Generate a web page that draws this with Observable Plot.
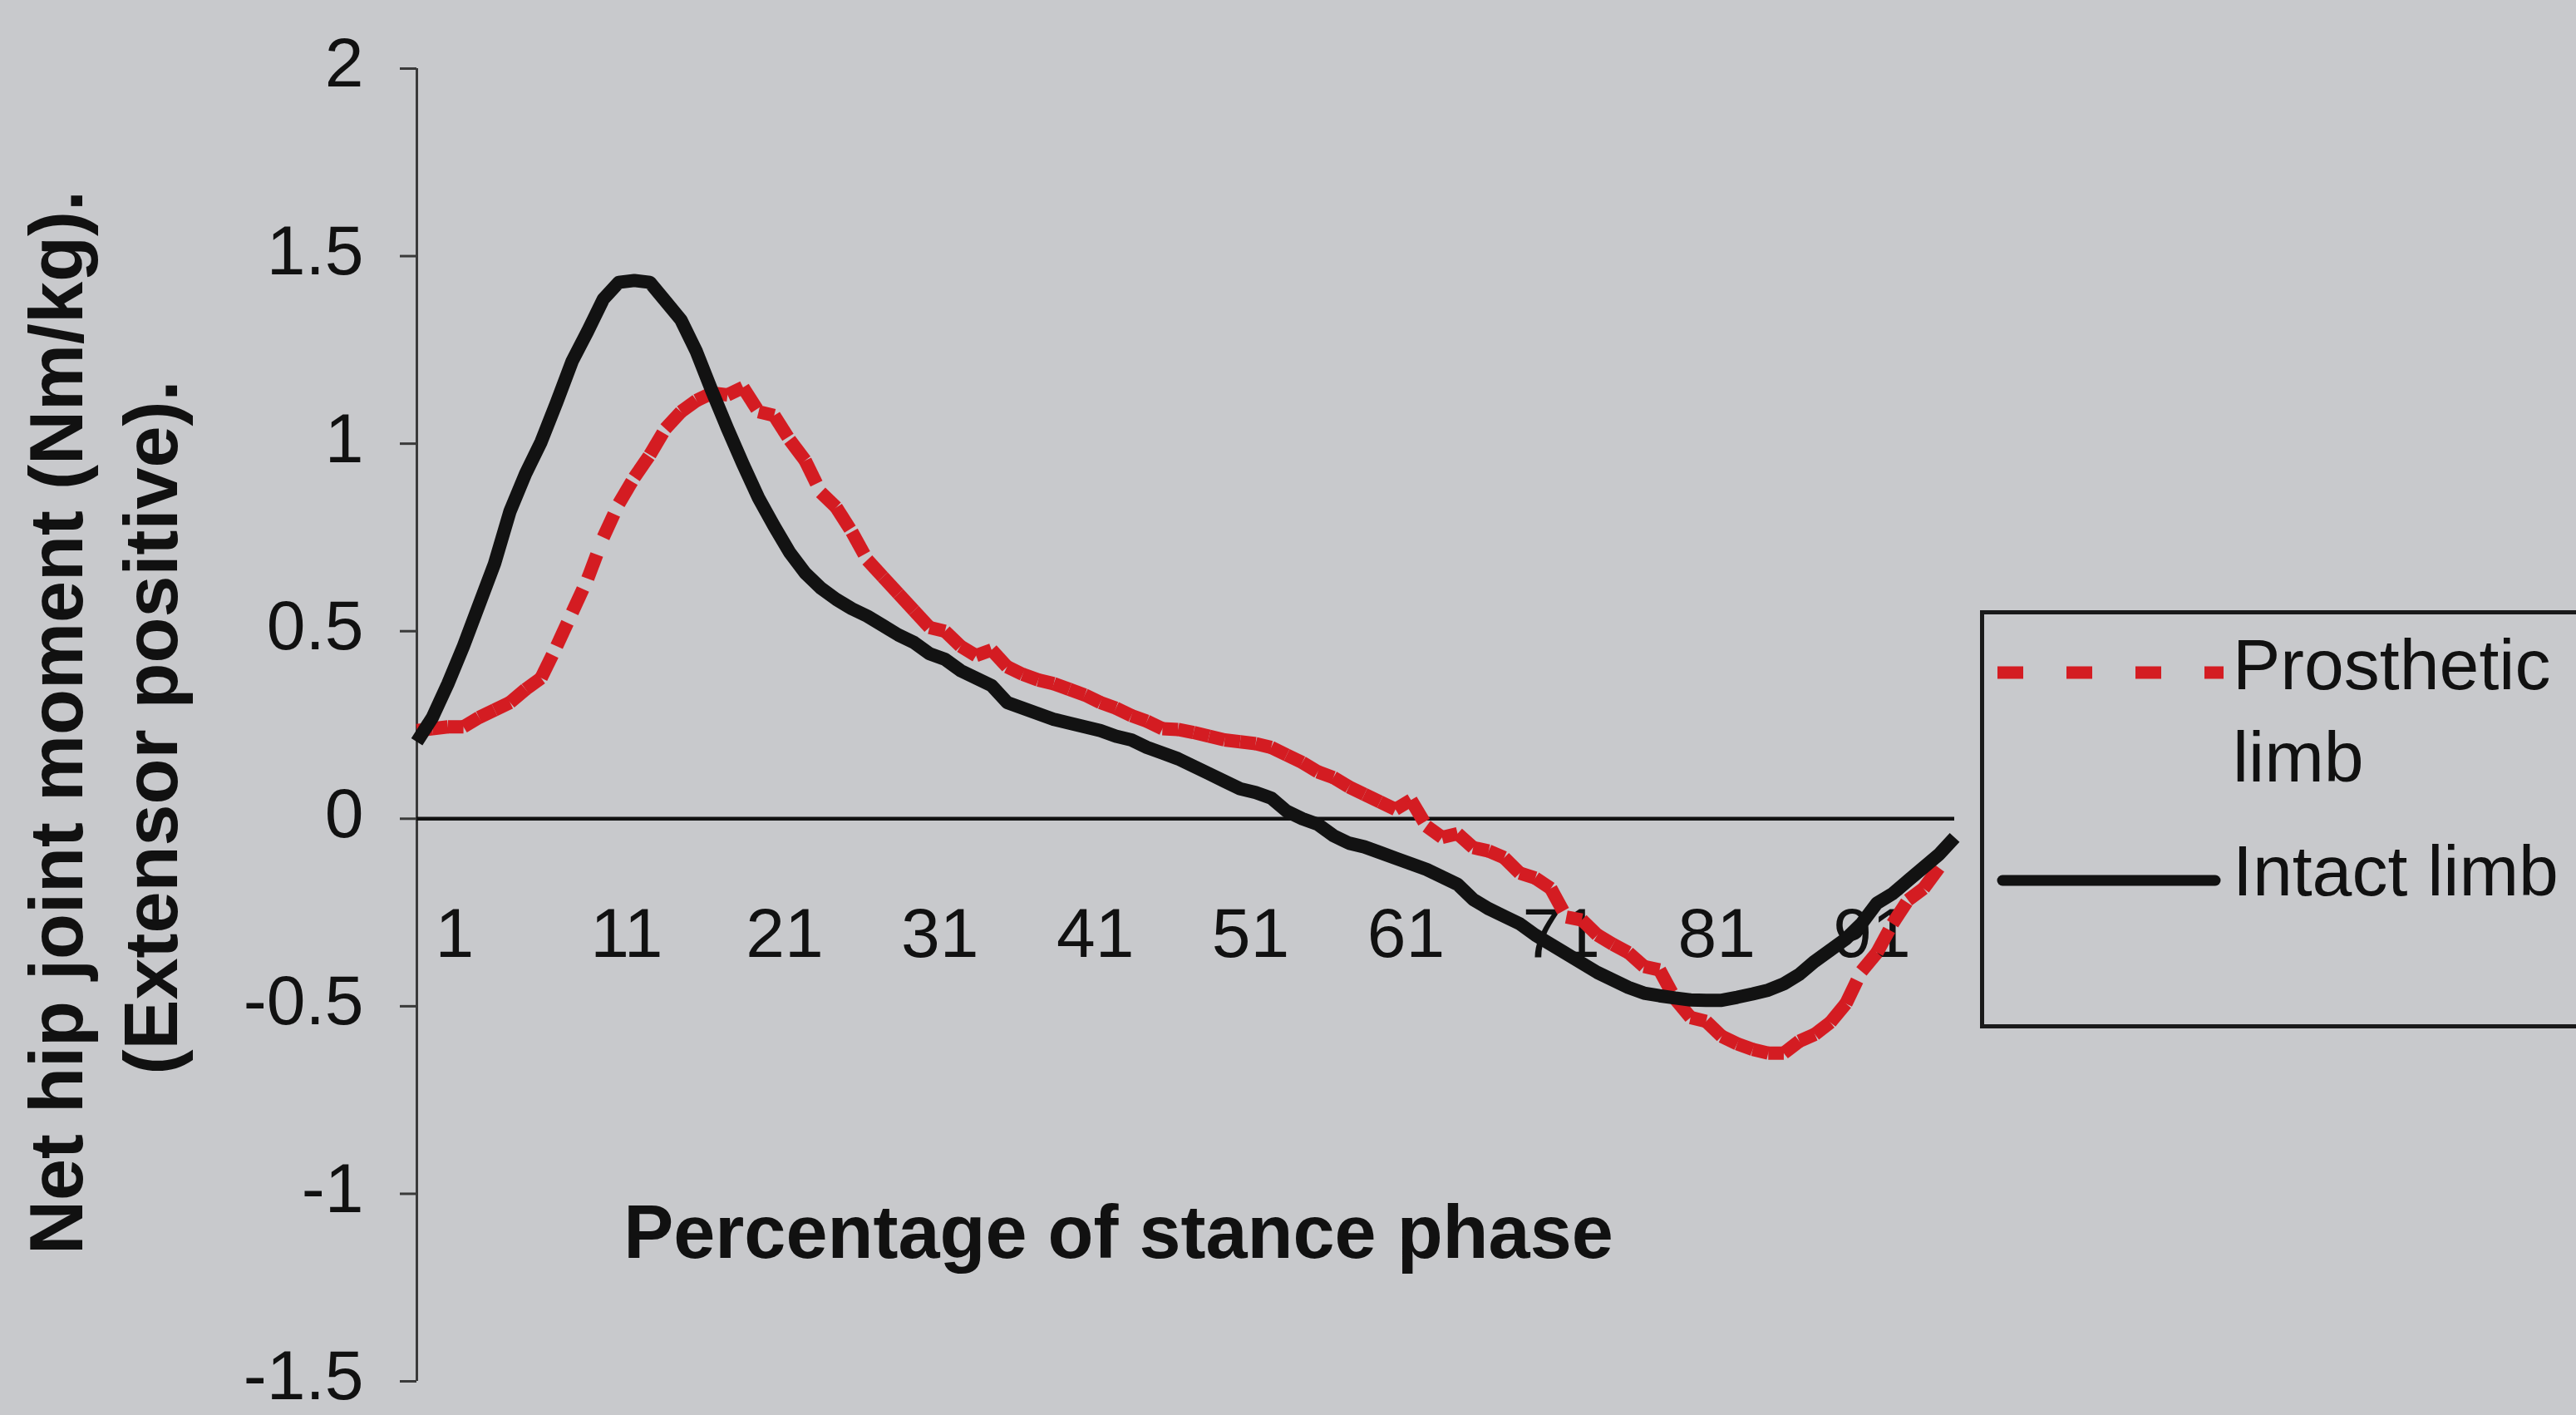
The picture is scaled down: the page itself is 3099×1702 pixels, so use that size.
<!DOCTYPE html>
<html>
<head>
<meta charset="utf-8">
<script src="https://cdn.jsdelivr.net/npm/d3@7"></script>
<script src="https://cdn.jsdelivr.net/npm/@observablehq/plot@0.6"></script>
<style>
  html, body { margin: 0; padding: 0; }
  body { width: 3099px; height: 1702px; overflow: hidden; background: #c8c9cc; position: relative;
         font-family: "Liberation Sans", Arial, sans-serif; }
  #chart { position: absolute; left: 0; top: 0; }
  #legend { position: absolute; left: 2382px; top: 734px; }
</style>
</head>
<body>
<div id="chart"></div>
<div id="legend"></div>
<script>
// ---- data ----
const stance = d3.range(1, 101); // categories 1..100 (% of stance phase)
const xTickLabels = [1, 11, 21, 31, 41, 51, 61, 71, 81, 91];
const yTicks = [2, 1.5, 1, 0.5, 0, -0.5, -1, -1.5];
const seriesNames = ["Prosthetic limb", "Intact limb"];
const xTitle = "Percentage of stance phase";
const yTitleLines = ["Net hip joint moment (Nm/kg).", "(Extensor positive)."];

const prosthetic = [
  0.235, 0.24, 0.245, 0.245, 0.27, 0.29, 0.31, 0.345, 0.375, 0.46,
  0.55, 0.64, 0.75, 0.84, 0.91, 0.97, 1.04, 1.085, 1.115, 1.135,
  1.13, 1.15, 1.085, 1.075, 1.01, 0.955, 0.87, 0.83, 0.765, 0.69,
  0.645, 0.6, 0.555, 0.51, 0.5, 0.46, 0.435, 0.45, 0.405, 0.385,
  0.37, 0.36, 0.345, 0.33, 0.31, 0.295, 0.275, 0.26, 0.24, 0.238,
  0.23, 0.22, 0.21, 0.205, 0.2, 0.19, 0.17, 0.15, 0.125, 0.11,
  0.085, 0.065, 0.045, 0.025, 0.05, -0.02, -0.05, -0.04, -0.077, -0.086,
  -0.104, -0.145, -0.158, -0.186, -0.262, -0.27, -0.31, -0.335, -0.357, -0.394,
  -0.403, -0.48, -0.53, -0.54, -0.58, -0.6, -0.615, -0.625, -0.625, -0.593,
  -0.575, -0.543, -0.493, -0.407, -0.357, -0.28, -0.217, -0.186, -0.13
];

const intact = [
  0.205, 0.27, 0.36, 0.46, 0.57, 0.68, 0.82, 0.92, 1.005, 1.11,
  1.22, 1.3, 1.385, 1.43, 1.435, 1.43, 1.38, 1.33, 1.245, 1.14,
  1.04, 0.945, 0.855, 0.78, 0.71, 0.655, 0.615, 0.585, 0.56, 0.54,
  0.515, 0.49, 0.47, 0.44, 0.425, 0.395, 0.375, 0.355, 0.31, 0.295,
  0.28, 0.265, 0.255, 0.245, 0.235, 0.22, 0.21, 0.19, 0.175, 0.16,
  0.14, 0.12, 0.1, 0.08, 0.07, 0.055, 0.02, 0.0, -0.015, -0.045,
  -0.065, -0.075, -0.09, -0.105, -0.12, -0.135, -0.155, -0.175, -0.215, -0.24,
  -0.26, -0.28, -0.31, -0.335, -0.36, -0.385, -0.41, -0.43, -0.45, -0.465,
  -0.472, -0.478, -0.483, -0.484, -0.484, -0.476, -0.467, -0.457, -0.44, -0.415,
  -0.38, -0.35, -0.32, -0.28, -0.225, -0.2, -0.165, -0.13, -0.095, -0.05
];

// ---- tables built from the arrays ----
const intactData = intact.map((v, k) => ({x: stance[k], y: v}));
// Excel restarts the dash pattern on every segment: draw the dashed series segment by segment
const prostheticSegments = prosthetic.slice(0, -1).map((v, k) => ({
  x1: stance[k], y1: v, x2: stance[k + 1], y2: prosthetic[k + 1]
}));

const RED = "#d41c22";
const BLACK = "#121212";
const TEXT = "#111111";

const chart = Plot.plot({
  width: 3099,
  height: 1702,
  marginLeft: 501,
  marginRight: 748,
  marginTop: 82,
  marginBottom: 41,
  style: {background: "transparent", fontFamily: "Liberation Sans, Arial, sans-serif", color: TEXT},
  x: {type: "linear", domain: [1, 100], axis: null},
  y: {domain: [-1.5, 2], axis: null},
  marks: [
    // y axis line and ticks
    Plot.ruleX([1], {stroke: "#3a3a3a", strokeWidth: 3}),
    Plot.axisY({
      ticks: yTicks, tickSize: 20, tickFormat: () => "",
      stroke: "#3a3a3a", strokeWidth: 3, label: null
    }),
    // y tick labels (sit a little above their ticks, as in the reference)
    Plot.text(yTicks, {
      y: d => d, frameAnchor: "left", text: d => String(d), textAnchor: "end", lineAnchor: "middle",
      dx: -64, dy: -5, fontSize: 84, fill: TEXT
    }),
    // zero line (category axis)
    Plot.ruleY([0], {stroke: "#111", strokeWidth: 4.5}),
    // category labels under the zero line
    Plot.text(xTickLabels, {
      x: d => d, y: 0, text: d => String(d), textAnchor: "start", lineAnchor: "middle",
      dx: 22, dy: 139, fontSize: 84, fill: TEXT
    }),
    // axis titles
    Plot.text([xTitle], {
      frameAnchor: "bottom", textAnchor: "middle", lineAnchor: "middle",
      dx: -81, dy: -177, fontSize: 90, fontWeight: "bold", fill: TEXT
    }),
    Plot.text([yTitleLines[0]], {
      frameAnchor: "left", textAnchor: "middle", lineAnchor: "middle", rotate: -90,
      dx: -431, dy: -3, fontSize: 90, fontWeight: "bold", fill: TEXT
    }),
    Plot.text([yTitleLines[1]], {
      frameAnchor: "left", textAnchor: "middle", lineAnchor: "middle", rotate: -90,
      dx: -317, dy: 3, fontSize: 90, fontWeight: "bold", fill: TEXT
    }),
    // series
    Plot.link(prostheticSegments, {
      x1: "x1", y1: "y1", x2: "x2", y2: "y2",
      stroke: RED, strokeWidth: 16, strokeDasharray: "31,52", strokeLinecap: "butt"
    }),
    Plot.line(intactData, {
      x: "x", y: "y", stroke: BLACK, strokeWidth: 16, strokeLinejoin: "round", strokeLinecap: "butt"
    })
  ]
});
document.getElementById("chart").appendChild(chart);

// ---- legend (box runs off the right edge, as in the reference) ----
const ns = "http://www.w3.org/2000/svg";
const lg = d3.select("#legend").append("svg")
  .attr("xmlns", ns).attr("width", 760).attr("height", 510)
  .style("overflow", "visible");
lg.append("rect").attr("x", 2.5).attr("y", 2.5).attr("width", 900).attr("height", 498)
  .attr("fill", "none").attr("stroke", "#1a1a1a").attr("stroke-width", 5);
lg.append("line").attr("x1", 21).attr("x2", 293).attr("y1", 75).attr("y2", 75)
  .attr("stroke", RED).attr("stroke-width", 15).attr("stroke-dasharray", "31,52");
lg.append("line").attr("x1", 27).attr("x2", 283).attr("y1", 325).attr("y2", 325)
  .attr("stroke", BLACK).attr("stroke-width", 13).attr("stroke-linecap", "round");
const labelLines = [
  {text: seriesNames[0].split(" ")[0], y: 95},
  {text: seriesNames[0].split(" ")[1], y: 206},
  {text: seriesNames[1], y: 343}
];
lg.selectAll("text.lab").data(labelLines).join("text")
  .attr("class", "lab").attr("x", 304).attr("y", d => d.y)
  .attr("font-family", "Liberation Sans, Arial, sans-serif").attr("font-size", 86)
  .attr("fill", TEXT).text(d => d.text);
</script>
</body>
</html>
